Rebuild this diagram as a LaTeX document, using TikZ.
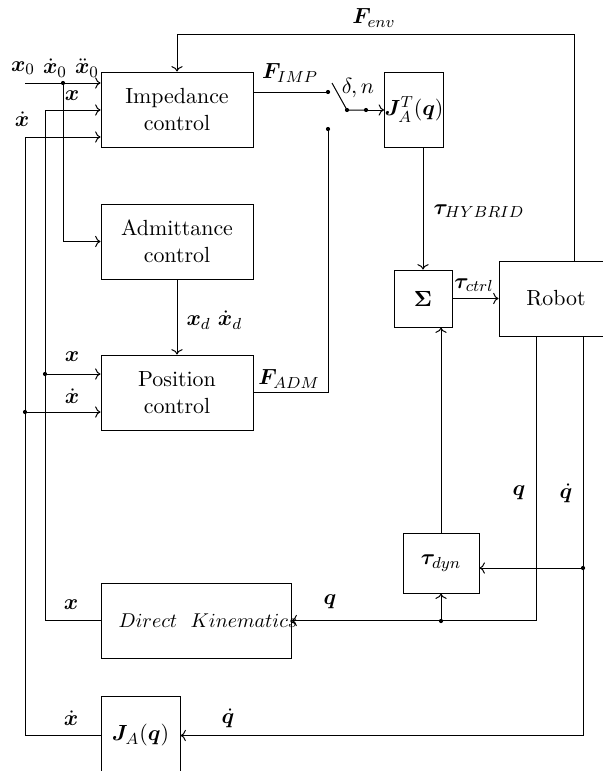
\documentclass[tikz,border=0pt,11pt]{standalone}
\usepackage{amsmath}
\usepackage{amssymb}
\usepackage{bm}
\usetikzlibrary{
    arrows.meta,
    calc
}

\begin{document}
\begin{tikzpicture}[
    >=To,
    x=0.5pt, y=-0.5pt,
    line width=0.5pt,
    block/.style={draw, align=center, inner sep=0pt},
    wideblock/.style={block, minimum width=76pt, minimum height=37.5pt}
]
\useasboundingbox (0,0) rectangle (603,771);

% Blocks
\node[wideblock] (imp) at (177,109.5) {Impedance\\control};
\node[wideblock] (adm) at (177,241.5) {Admittance\\control};
\node[wideblock] (pos) at (177,392.5) {Position\\control};
\node[block, minimum width=29pt, minimum height=37.5pt] (jat) at (414,109.5) {$\bm{J}_A^T(\bm{q})$};
\node[block, minimum width=29pt, minimum height=28.5pt] (sum) at (423,298.5) {$\bm{\Sigma}$};
\node[block, minimum width=57pt, minimum height=37.5pt] (robot) at (556,298.5) {Robot};
\node[block, minimum width=38pt, minimum height=30pt] (tdyn) at (441,563) {$\bm{\tau}_{dyn}$};
\node[block, minimum width=95pt, minimum height=37.5pt] (dk) at (196,620.5)
    {\makebox[0pt]{\small\hspace*{12pt}$Direct\ \ Kinematics$}};
\node[block, minimum width=39.5pt, minimum height=39.5pt] (ja) at (140.5,735.5) {$\bm{J}_A(\bm{q})$};

% Branch points
\coordinate (xref) at (25,83);
\coordinate (xsplit) at (63,83);
\coordinate (xbus) at (45,110);
\coordinate (xdbus) at (25,137);
\coordinate (xtap) at (45,374);
\coordinate (xdtap) at (25,412);
\coordinate (swa) at (328,92);
\coordinate (swb) at (328,129);
\coordinate (swtip) at (332,83);
\coordinate (swc) at (347,110);
\coordinate (swd) at (366,110);
\coordinate (fenv) at (574,34);
\coordinate (qbus) at (536,621);
\coordinate (qtap) at (441,621);
\coordinate (qdbus) at (583,734);
\coordinate (qdtap) at (583,568);

% Reference inputs
\draw[->] (xref) -- (xref -| imp.west);
\draw[->] (xsplit) |- (adm.west);
\draw[->] (dk.west) -| (xbus) -- (xbus -| imp.west);
\draw[->] (ja.west) -| (xdbus) -- (xdbus -| imp.west);
\draw[->] (xtap) -- (xtap -| pos.west);
\draw[->] (xdtap) -- (xdtap -| pos.west);
\draw[->] (adm) -- (pos);

% Switch
\draw (imp.east |- swa) -- (swa);
\draw (swtip) -- (swc) -- (swd);
\draw[->] (swd) -- (swd -| jat.west);
\draw (pos.east) -| (swb);

% Torque path
\draw[->] (jat.south -| sum) -- (sum);
\draw[->] (sum) -- (robot);
\draw[->] (tdyn.north) -- (tdyn.north |- sum.south);
\draw[->] (robot.north -| fenv) -- (fenv) -| (imp.north);

% Feedback
\draw[->] (robot.south -| qbus) |- (dk.east);
\draw[->] (qtap) -- (tdyn.south);
\draw[->] (robot.south -| qdbus) |- (ja.east);
\draw[->] (qdtap) -- (qdtap -| tdyn.east);

% Dots
\foreach \p in {xsplit,xtap,xdtap,swa,swb,swc,swd,qtap,qdtap}
    \fill (\p) circle (1.05pt);

% Labels
\node (lxzero) at (23,68) {$\bm{x}_0$};
\node (lxdzero) at (55,68) {$\dot{\bm{x}}_0$};
\node (lxddzero) at (87,68) {$\ddot{\bm{x}}_0$};
\node (lximp) at (72,96) {$\bm{x}$};
\node (lxdimp) at (22,119) {$\dot{\bm{x}}$};
\node (lfimp) at (290,73) {$\bm{F}_{IMP}$};
\node (lsw) at (358,88) {$\delta,n$};
\node (lfenv) at (374,18) {$\bm{F}_{env}$};
\node[anchor=west, inner sep=0pt] (lthyb) at (433,211) {$\bm{\tau}_{HYBRID}$};
\node (ltctrl) at (474,285) {$\bm{\tau}_{ctrl}$};
\node[anchor=west, inner sep=0pt] (lxd) at (186,320) {$\bm{x}_d\ \dot{\bm{x}}_d$};
\node (lxpos) at (72,357) {$\bm{x}$};
\node (lxdpos) at (72,396) {$\dot{\bm{x}}$};
\node (lfadm) at (289,379) {$\bm{F}_{ADM}$};
\node (lq) at (519,493) {$\bm{q}$};
\node (lqd) at (566,493) {$\dot{\bm{q}}$};
\node (lxdk) at (71,605) {$\bm{x}$};
\node (lqdk) at (330,602) {$\bm{q}$};
\node (lxdja) at (71,718) {$\dot{\bm{x}}$};
\node (lqdja) at (228,718) {$\dot{\bm{q}}$};

\end{tikzpicture}
\end{document}
